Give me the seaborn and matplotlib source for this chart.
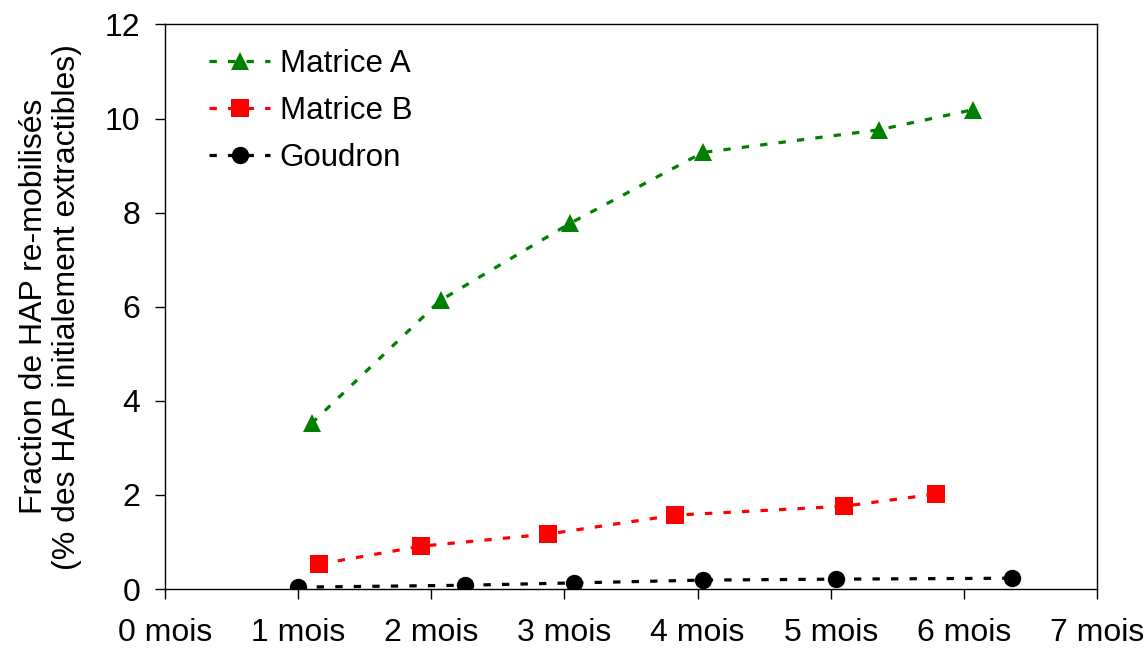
import matplotlib
matplotlib.use("Agg")
import matplotlib.pyplot as plt
import seaborn as sns
import pandas as pd

# Data
months_a = [1.10, 2.07, 3.04, 4.04, 5.36, 6.07]
values_a = [3.52, 6.14, 7.77, 9.28, 9.76, 10.19]

months_b = [1.16, 1.92, 2.88, 3.83, 5.10, 5.79]
values_b = [0.53, 0.91, 1.17, 1.57, 1.76, 2.02]

months_g = [1.00, 2.25, 3.07, 4.04, 5.04, 6.36]
values_g = [0.04, 0.08, 0.13, 0.19, 0.21, 0.23]

series_names = ["Matrice A", "Matrice B", "Goudron"]
series_colors = ["#008000", "#FF0000", "#000000"]
series_markers = ["^", "s", "o"]

x_ticks = [0, 1, 2, 3, 4, 5, 6, 7]
x_tick_labels = ["0 mois", "1 mois", "2 mois", "3 mois", "4 mois", "5 mois", "6 mois", "7 mois"]
y_ticks = [0, 2, 4, 6, 8, 10, 12]

ylabel = "Fraction de HAP re-mobilisés\n(% des HAP initialement extractibles)"

sns.set_theme(style="white")
plt.rcParams["font.family"] = ["Liberation Sans", "DejaVu Sans"]
plt.rcParams["text.color"] = "black"
plt.rcParams["axes.labelcolor"] = "black"
plt.rcParams["xtick.color"] = "black"
plt.rcParams["ytick.color"] = "black"

fig = plt.figure(figsize=(11.47, 6.48), dpi=100)
ax = fig.add_axes([0.1439, 0.0910, 0.9564 - 0.1439, 0.9622 - 0.0910])

data = [(months_a, values_a), (months_b, values_b), (months_g, values_g)]
for (xs, ys), name, col, mk in zip(data, series_names, series_colors, series_markers):
    df = pd.DataFrame({"x": xs, "y": ys})
    sns.lineplot(data=df, x="x", y="y", ax=ax, color=col, marker=mk,
                 markersize=12.5, markeredgewidth=0, linewidth=2.3,
                 linestyle=(0, (2.3, 3.5)), sort=False, label=name)

ax.set_xlim(0, 7)
ax.set_ylim(0, 12)
ax.set_xticks(x_ticks)
ax.set_xticklabels(x_tick_labels)
ax.set_yticks(y_ticks)
ax.tick_params(axis="both", which="major", labelsize=23, length=7, width=1,
               colors="black", direction="out", bottom=True, left=True)
ax.tick_params(axis="x", pad=14)
ax.tick_params(axis="y", pad=11)
ax.set_xlabel("")
ax.set_ylabel(ylabel, fontsize=23, labelpad=16, linespacing=1.12, color="black")

for s in ax.spines.values():
    s.set_color("black")
    s.set_linewidth(1.0)

leg = ax.legend(loc="upper left", bbox_to_anchor=(0.024, 0.996), frameon=False,
                fontsize=22.5, handlelength=1.95, handletextpad=0.3,
                labelspacing=0.55, borderaxespad=0.3)
for t in leg.get_texts():
    t.set_color("black")

fig.savefig("out.png", dpi=100)
